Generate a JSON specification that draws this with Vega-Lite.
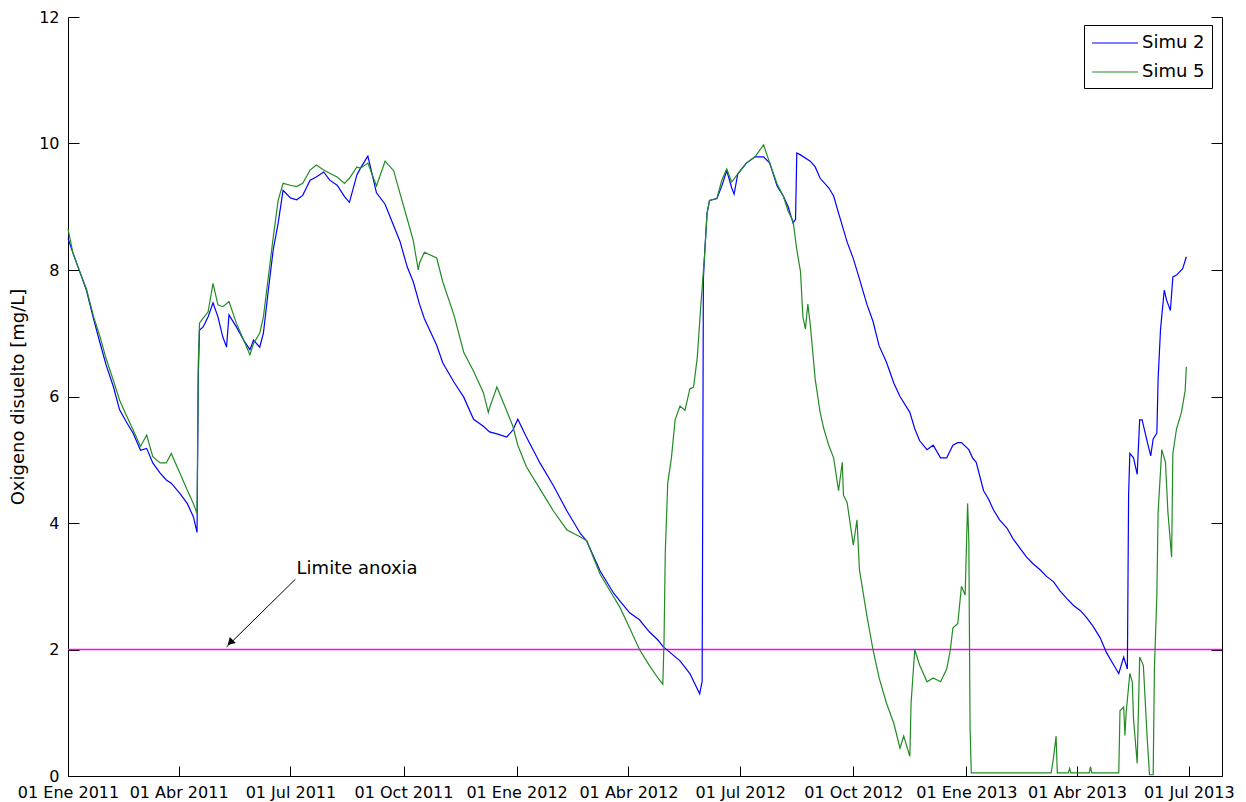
{
"$schema":"https://vega.github.io/schema/vega-lite/v6.json",
"width":1154,"height":759,
"autosize":{"type":"none"},
"padding":{"left":68,"top":17,"right":24,"bottom":26},
"background":"white",
"config":{"view":{"stroke":null},"font":"DejaVu Sans"},
"datasets":{
"sim":[
{"date":"2011-01-01","series":"Simu 2","value":8.5},
{"date":"2011-01-05","series":"Simu 2","value":8.27},
{"date":"2011-01-11","series":"Simu 2","value":7.95},
{"date":"2011-01-16","series":"Simu 2","value":7.68},
{"date":"2011-01-22","series":"Simu 2","value":7.21},
{"date":"2011-01-27","series":"Simu 2","value":6.85},
{"date":"2011-02-01","series":"Simu 2","value":6.5},
{"date":"2011-02-07","series":"Simu 2","value":6.15},
{"date":"2011-02-12","series":"Simu 2","value":5.79},
{"date":"2011-02-18","series":"Simu 2","value":5.58},
{"date":"2011-02-23","series":"Simu 2","value":5.42},
{"date":"2011-03-01","series":"Simu 2","value":5.15},
{"date":"2011-03-06","series":"Simu 2","value":5.18},
{"date":"2011-03-11","series":"Simu 2","value":4.95},
{"date":"2011-03-17","series":"Simu 2","value":4.79},
{"date":"2011-03-22","series":"Simu 2","value":4.68},
{"date":"2011-03-26","series":"Simu 2","value":4.63},
{"date":"2011-04-02","series":"Simu 2","value":4.47},
{"date":"2011-04-08","series":"Simu 2","value":4.31},
{"date":"2011-04-13","series":"Simu 2","value":4.1},
{"date":"2011-04-16","series":"Simu 2","value":3.85},
{"date":"2011-04-17","series":"Simu 2","value":6.31},
{"date":"2011-04-18","series":"Simu 2","value":7.05},
{"date":"2011-04-21","series":"Simu 2","value":7.1},
{"date":"2011-04-25","series":"Simu 2","value":7.26},
{"date":"2011-04-29","series":"Simu 2","value":7.48},
{"date":"2011-05-03","series":"Simu 2","value":7.26},
{"date":"2011-05-07","series":"Simu 2","value":6.94},
{"date":"2011-05-10","series":"Simu 2","value":6.78},
{"date":"2011-05-12","series":"Simu 2","value":7.29},
{"date":"2011-05-18","series":"Simu 2","value":7.1},
{"date":"2011-05-24","series":"Simu 2","value":6.89},
{"date":"2011-05-29","series":"Simu 2","value":6.74},
{"date":"2011-06-01","series":"Simu 2","value":6.89},
{"date":"2011-06-06","series":"Simu 2","value":6.78},
{"date":"2011-06-09","series":"Simu 2","value":7.0},
{"date":"2011-06-13","series":"Simu 2","value":7.68},
{"date":"2011-06-17","series":"Simu 2","value":8.32},
{"date":"2011-06-21","series":"Simu 2","value":8.74},
{"date":"2011-06-25","series":"Simu 2","value":9.26},
{"date":"2011-07-01","series":"Simu 2","value":9.14},
{"date":"2011-07-06","series":"Simu 2","value":9.11},
{"date":"2011-07-11","series":"Simu 2","value":9.18},
{"date":"2011-07-17","series":"Simu 2","value":9.42},
{"date":"2011-07-22","series":"Simu 2","value":9.47},
{"date":"2011-07-28","series":"Simu 2","value":9.55},
{"date":"2011-08-02","series":"Simu 2","value":9.42},
{"date":"2011-08-08","series":"Simu 2","value":9.34},
{"date":"2011-08-14","series":"Simu 2","value":9.16},
{"date":"2011-08-18","series":"Simu 2","value":9.07},
{"date":"2011-08-24","series":"Simu 2","value":9.5},
{"date":"2011-08-27","series":"Simu 2","value":9.61},
{"date":"2011-09-02","series":"Simu 2","value":9.8},
{"date":"2011-09-09","series":"Simu 2","value":9.22},
{"date":"2011-09-16","series":"Simu 2","value":9.04},
{"date":"2011-09-23","series":"Simu 2","value":8.7},
{"date":"2011-09-28","series":"Simu 2","value":8.46},
{"date":"2011-10-04","series":"Simu 2","value":8.05},
{"date":"2011-10-09","series":"Simu 2","value":7.81},
{"date":"2011-10-14","series":"Simu 2","value":7.46},
{"date":"2011-10-18","series":"Simu 2","value":7.23},
{"date":"2011-10-28","series":"Simu 2","value":6.81},
{"date":"2011-11-02","series":"Simu 2","value":6.53},
{"date":"2011-11-11","series":"Simu 2","value":6.23},
{"date":"2011-11-19","series":"Simu 2","value":5.99},
{"date":"2011-11-27","series":"Simu 2","value":5.64},
{"date":"2011-12-05","series":"Simu 2","value":5.53},
{"date":"2011-12-10","series":"Simu 2","value":5.44},
{"date":"2011-12-16","series":"Simu 2","value":5.41},
{"date":"2011-12-24","series":"Simu 2","value":5.36},
{"date":"2011-12-29","series":"Simu 2","value":5.47},
{"date":"2012-01-02","series":"Simu 2","value":5.64},
{"date":"2012-01-09","series":"Simu 2","value":5.36},
{"date":"2012-01-20","series":"Simu 2","value":4.95},
{"date":"2012-01-31","series":"Simu 2","value":4.59},
{"date":"2012-02-11","series":"Simu 2","value":4.19},
{"date":"2012-02-22","series":"Simu 2","value":3.83},
{"date":"2012-02-27","series":"Simu 2","value":3.72},
{"date":"2012-03-09","series":"Simu 2","value":3.24},
{"date":"2012-03-20","series":"Simu 2","value":2.89},
{"date":"2012-03-25","series":"Simu 2","value":2.77},
{"date":"2012-04-02","series":"Simu 2","value":2.58},
{"date":"2012-04-10","series":"Simu 2","value":2.47},
{"date":"2012-04-18","series":"Simu 2","value":2.28},
{"date":"2012-04-25","series":"Simu 2","value":2.15},
{"date":"2012-04-29","series":"Simu 2","value":2.05},
{"date":"2012-05-13","series":"Simu 2","value":1.82},
{"date":"2012-05-21","series":"Simu 2","value":1.62},
{"date":"2012-05-29","series":"Simu 2","value":1.3},
{"date":"2012-05-31","series":"Simu 2","value":1.5},
{"date":"2012-06-01","series":"Simu 2","value":7.86},
{"date":"2012-06-02","series":"Simu 2","value":8.24},
{"date":"2012-06-04","series":"Simu 2","value":8.9},
{"date":"2012-06-06","series":"Simu 2","value":9.1},
{"date":"2012-06-12","series":"Simu 2","value":9.13},
{"date":"2012-06-16","series":"Simu 2","value":9.33},
{"date":"2012-06-20","series":"Simu 2","value":9.57},
{"date":"2012-06-24","series":"Simu 2","value":9.3},
{"date":"2012-06-26","series":"Simu 2","value":9.2},
{"date":"2012-06-29","series":"Simu 2","value":9.52},
{"date":"2012-07-06","series":"Simu 2","value":9.69},
{"date":"2012-07-13","series":"Simu 2","value":9.79},
{"date":"2012-07-20","series":"Simu 2","value":9.79},
{"date":"2012-07-25","series":"Simu 2","value":9.69},
{"date":"2012-07-31","series":"Simu 2","value":9.33},
{"date":"2012-08-05","series":"Simu 2","value":9.17},
{"date":"2012-08-09","series":"Simu 2","value":9.0},
{"date":"2012-08-13","series":"Simu 2","value":8.74},
{"date":"2012-08-15","series":"Simu 2","value":8.8},
{"date":"2012-08-16","series":"Simu 2","value":9.85},
{"date":"2012-08-19","series":"Simu 2","value":9.82},
{"date":"2012-08-27","series":"Simu 2","value":9.72},
{"date":"2012-08-31","series":"Simu 2","value":9.63},
{"date":"2012-09-04","series":"Simu 2","value":9.45},
{"date":"2012-09-11","series":"Simu 2","value":9.3},
{"date":"2012-09-15","series":"Simu 2","value":9.17},
{"date":"2012-09-19","series":"Simu 2","value":8.9},
{"date":"2012-09-26","series":"Simu 2","value":8.44},
{"date":"2012-10-01","series":"Simu 2","value":8.18},
{"date":"2012-10-06","series":"Simu 2","value":7.86},
{"date":"2012-10-12","series":"Simu 2","value":7.46},
{"date":"2012-10-17","series":"Simu 2","value":7.19},
{"date":"2012-10-22","series":"Simu 2","value":6.8},
{"date":"2012-10-28","series":"Simu 2","value":6.54},
{"date":"2012-11-03","series":"Simu 2","value":6.21},
{"date":"2012-11-08","series":"Simu 2","value":6.0},
{"date":"2012-11-16","series":"Simu 2","value":5.75},
{"date":"2012-11-20","series":"Simu 2","value":5.49},
{"date":"2012-11-24","series":"Simu 2","value":5.3},
{"date":"2012-11-30","series":"Simu 2","value":5.16},
{"date":"2012-12-05","series":"Simu 2","value":5.23},
{"date":"2012-12-11","series":"Simu 2","value":5.03},
{"date":"2012-12-16","series":"Simu 2","value":5.03},
{"date":"2012-12-21","series":"Simu 2","value":5.23},
{"date":"2012-12-25","series":"Simu 2","value":5.27},
{"date":"2012-12-28","series":"Simu 2","value":5.27},
{"date":"2013-01-03","series":"Simu 2","value":5.16},
{"date":"2013-01-06","series":"Simu 2","value":5.03},
{"date":"2013-01-09","series":"Simu 2","value":4.96},
{"date":"2013-01-15","series":"Simu 2","value":4.51},
{"date":"2013-01-19","series":"Simu 2","value":4.38},
{"date":"2013-01-23","series":"Simu 2","value":4.21},
{"date":"2013-01-28","series":"Simu 2","value":4.05},
{"date":"2013-02-03","series":"Simu 2","value":3.92},
{"date":"2013-02-08","series":"Simu 2","value":3.75},
{"date":"2013-02-14","series":"Simu 2","value":3.59},
{"date":"2013-02-19","series":"Simu 2","value":3.46},
{"date":"2013-02-24","series":"Simu 2","value":3.36},
{"date":"2013-03-02","series":"Simu 2","value":3.26},
{"date":"2013-03-07","series":"Simu 2","value":3.16},
{"date":"2013-03-13","series":"Simu 2","value":3.07},
{"date":"2013-03-18","series":"Simu 2","value":2.93},
{"date":"2013-03-24","series":"Simu 2","value":2.8},
{"date":"2013-03-29","series":"Simu 2","value":2.7},
{"date":"2013-04-04","series":"Simu 2","value":2.61},
{"date":"2013-04-09","series":"Simu 2","value":2.5},
{"date":"2013-04-14","series":"Simu 2","value":2.37},
{"date":"2013-04-20","series":"Simu 2","value":2.18},
{"date":"2013-04-25","series":"Simu 2","value":1.95},
{"date":"2013-05-01","series":"Simu 2","value":1.75},
{"date":"2013-05-05","series":"Simu 2","value":1.62},
{"date":"2013-05-09","series":"Simu 2","value":1.88},
{"date":"2013-05-12","series":"Simu 2","value":1.69},
{"date":"2013-05-13","series":"Simu 2","value":4.44},
{"date":"2013-05-14","series":"Simu 2","value":5.1},
{"date":"2013-05-17","series":"Simu 2","value":5.03},
{"date":"2013-05-20","series":"Simu 2","value":4.77},
{"date":"2013-05-22","series":"Simu 2","value":5.63},
{"date":"2013-05-24","series":"Simu 2","value":5.63},
{"date":"2013-05-28","series":"Simu 2","value":5.3},
{"date":"2013-05-31","series":"Simu 2","value":5.06},
{"date":"2013-06-02","series":"Simu 2","value":5.33},
{"date":"2013-06-05","series":"Simu 2","value":5.42},
{"date":"2013-06-06","series":"Simu 2","value":6.27},
{"date":"2013-06-08","series":"Simu 2","value":7.07},
{"date":"2013-06-11","series":"Simu 2","value":7.68},
{"date":"2013-06-13","series":"Simu 2","value":7.52},
{"date":"2013-06-16","series":"Simu 2","value":7.36},
{"date":"2013-06-18","series":"Simu 2","value":7.89},
{"date":"2013-06-21","series":"Simu 2","value":7.92},
{"date":"2013-06-26","series":"Simu 2","value":8.02},
{"date":"2013-06-29","series":"Simu 2","value":8.21},
{"date":"2011-01-01","series":"Simu 5","value":8.65},
{"date":"2011-01-05","series":"Simu 5","value":8.27},
{"date":"2011-01-11","series":"Simu 5","value":7.95},
{"date":"2011-01-16","series":"Simu 5","value":7.7},
{"date":"2011-01-22","series":"Simu 5","value":7.25},
{"date":"2011-01-27","series":"Simu 5","value":6.95},
{"date":"2011-02-01","series":"Simu 5","value":6.6},
{"date":"2011-02-07","series":"Simu 5","value":6.25},
{"date":"2011-02-12","series":"Simu 5","value":5.94},
{"date":"2011-02-18","series":"Simu 5","value":5.68},
{"date":"2011-02-23","series":"Simu 5","value":5.47},
{"date":"2011-03-01","series":"Simu 5","value":5.21},
{"date":"2011-03-06","series":"Simu 5","value":5.39},
{"date":"2011-03-11","series":"Simu 5","value":5.05},
{"date":"2011-03-17","series":"Simu 5","value":4.95},
{"date":"2011-03-22","series":"Simu 5","value":4.95},
{"date":"2011-03-26","series":"Simu 5","value":5.1},
{"date":"2011-04-02","series":"Simu 5","value":4.79},
{"date":"2011-04-08","series":"Simu 5","value":4.52},
{"date":"2011-04-13","series":"Simu 5","value":4.31},
{"date":"2011-04-16","series":"Simu 5","value":4.15},
{"date":"2011-04-17","series":"Simu 5","value":6.53},
{"date":"2011-04-18","series":"Simu 5","value":7.16},
{"date":"2011-04-21","series":"Simu 5","value":7.24},
{"date":"2011-04-25","series":"Simu 5","value":7.34},
{"date":"2011-04-29","series":"Simu 5","value":7.79},
{"date":"2011-05-03","series":"Simu 5","value":7.45},
{"date":"2011-05-07","series":"Simu 5","value":7.42},
{"date":"2011-05-12","series":"Simu 5","value":7.5},
{"date":"2011-05-18","series":"Simu 5","value":7.16},
{"date":"2011-05-24","series":"Simu 5","value":6.89},
{"date":"2011-05-29","series":"Simu 5","value":6.66},
{"date":"2011-06-01","series":"Simu 5","value":6.84},
{"date":"2011-06-06","series":"Simu 5","value":7.0},
{"date":"2011-06-09","series":"Simu 5","value":7.26},
{"date":"2011-06-13","series":"Simu 5","value":7.89},
{"date":"2011-06-17","series":"Simu 5","value":8.52},
{"date":"2011-06-21","series":"Simu 5","value":9.1},
{"date":"2011-06-25","series":"Simu 5","value":9.37},
{"date":"2011-07-01","series":"Simu 5","value":9.34},
{"date":"2011-07-06","series":"Simu 5","value":9.32},
{"date":"2011-07-11","series":"Simu 5","value":9.37},
{"date":"2011-07-17","series":"Simu 5","value":9.58},
{"date":"2011-07-22","series":"Simu 5","value":9.66},
{"date":"2011-07-28","series":"Simu 5","value":9.58},
{"date":"2011-08-02","series":"Simu 5","value":9.53},
{"date":"2011-08-08","series":"Simu 5","value":9.47},
{"date":"2011-08-14","series":"Simu 5","value":9.37},
{"date":"2011-08-18","series":"Simu 5","value":9.45},
{"date":"2011-08-24","series":"Simu 5","value":9.63},
{"date":"2011-08-27","series":"Simu 5","value":9.61},
{"date":"2011-09-02","series":"Simu 5","value":9.69},
{"date":"2011-09-09","series":"Simu 5","value":9.33},
{"date":"2011-09-16","series":"Simu 5","value":9.72},
{"date":"2011-09-23","series":"Simu 5","value":9.57},
{"date":"2011-09-28","series":"Simu 5","value":9.22},
{"date":"2011-10-04","series":"Simu 5","value":8.81},
{"date":"2011-10-09","series":"Simu 5","value":8.46},
{"date":"2011-10-13","series":"Simu 5","value":8.0},
{"date":"2011-10-14","series":"Simu 5","value":8.11},
{"date":"2011-10-18","series":"Simu 5","value":8.28},
{"date":"2011-10-28","series":"Simu 5","value":8.19},
{"date":"2011-11-02","series":"Simu 5","value":7.81},
{"date":"2011-11-11","series":"Simu 5","value":7.29},
{"date":"2011-11-19","series":"Simu 5","value":6.7},
{"date":"2011-11-27","series":"Simu 5","value":6.4},
{"date":"2011-12-05","series":"Simu 5","value":6.06},
{"date":"2011-12-09","series":"Simu 5","value":5.75},
{"date":"2011-12-10","series":"Simu 5","value":5.82},
{"date":"2011-12-16","series":"Simu 5","value":6.15},
{"date":"2011-12-24","series":"Simu 5","value":5.77},
{"date":"2011-12-29","series":"Simu 5","value":5.53},
{"date":"2012-01-02","series":"Simu 5","value":5.23},
{"date":"2012-01-09","series":"Simu 5","value":4.89},
{"date":"2012-01-20","series":"Simu 5","value":4.54},
{"date":"2012-01-31","series":"Simu 5","value":4.19},
{"date":"2012-02-11","series":"Simu 5","value":3.89},
{"date":"2012-02-22","series":"Simu 5","value":3.78},
{"date":"2012-02-27","series":"Simu 5","value":3.72},
{"date":"2012-03-09","series":"Simu 5","value":3.19},
{"date":"2012-03-20","series":"Simu 5","value":2.83},
{"date":"2012-03-25","series":"Simu 5","value":2.67},
{"date":"2012-04-02","series":"Simu 5","value":2.34},
{"date":"2012-04-10","series":"Simu 5","value":2.0},
{"date":"2012-04-18","series":"Simu 5","value":1.75},
{"date":"2012-04-25","series":"Simu 5","value":1.55},
{"date":"2012-04-29","series":"Simu 5","value":1.45},
{"date":"2012-04-30","series":"Simu 5","value":2.15},
{"date":"2012-05-01","series":"Simu 5","value":3.53},
{"date":"2012-05-03","series":"Simu 5","value":4.63},
{"date":"2012-05-06","series":"Simu 5","value":5.03},
{"date":"2012-05-09","series":"Simu 5","value":5.63},
{"date":"2012-05-13","series":"Simu 5","value":5.85},
{"date":"2012-05-17","series":"Simu 5","value":5.78},
{"date":"2012-05-21","series":"Simu 5","value":6.12},
{"date":"2012-05-24","series":"Simu 5","value":6.15},
{"date":"2012-05-27","series":"Simu 5","value":6.61},
{"date":"2012-05-30","series":"Simu 5","value":7.46},
{"date":"2012-06-02","series":"Simu 5","value":8.24},
{"date":"2012-06-04","series":"Simu 5","value":8.9},
{"date":"2012-06-06","series":"Simu 5","value":9.1},
{"date":"2012-06-12","series":"Simu 5","value":9.13},
{"date":"2012-06-16","series":"Simu 5","value":9.42},
{"date":"2012-06-20","series":"Simu 5","value":9.6},
{"date":"2012-06-24","series":"Simu 5","value":9.39},
{"date":"2012-06-29","series":"Simu 5","value":9.52},
{"date":"2012-07-06","series":"Simu 5","value":9.69},
{"date":"2012-07-13","series":"Simu 5","value":9.79},
{"date":"2012-07-20","series":"Simu 5","value":9.98},
{"date":"2012-07-25","series":"Simu 5","value":9.69},
{"date":"2012-07-31","series":"Simu 5","value":9.36},
{"date":"2012-08-05","series":"Simu 5","value":9.17},
{"date":"2012-08-09","series":"Simu 5","value":8.93},
{"date":"2012-08-13","series":"Simu 5","value":8.77},
{"date":"2012-08-16","series":"Simu 5","value":8.32},
{"date":"2012-08-19","series":"Simu 5","value":7.98},
{"date":"2012-08-21","series":"Simu 5","value":7.26},
{"date":"2012-08-23","series":"Simu 5","value":7.07},
{"date":"2012-08-25","series":"Simu 5","value":7.46},
{"date":"2012-08-27","series":"Simu 5","value":7.13},
{"date":"2012-08-31","series":"Simu 5","value":6.27},
{"date":"2012-09-04","series":"Simu 5","value":5.75},
{"date":"2012-09-07","series":"Simu 5","value":5.49},
{"date":"2012-09-11","series":"Simu 5","value":5.23},
{"date":"2012-09-15","series":"Simu 5","value":5.03},
{"date":"2012-09-19","series":"Simu 5","value":4.51},
{"date":"2012-09-22","series":"Simu 5","value":4.96},
{"date":"2012-09-23","series":"Simu 5","value":4.44},
{"date":"2012-09-26","series":"Simu 5","value":4.32},
{"date":"2012-10-01","series":"Simu 5","value":3.65},
{"date":"2012-10-04","series":"Simu 5","value":4.05},
{"date":"2012-10-06","series":"Simu 5","value":3.26},
{"date":"2012-10-12","series":"Simu 5","value":2.54},
{"date":"2012-10-17","series":"Simu 5","value":2.0},
{"date":"2012-10-22","series":"Simu 5","value":1.55},
{"date":"2012-10-28","series":"Simu 5","value":1.15},
{"date":"2012-11-03","series":"Simu 5","value":0.83},
{"date":"2012-11-08","series":"Simu 5","value":0.44},
{"date":"2012-11-11","series":"Simu 5","value":0.63},
{"date":"2012-11-16","series":"Simu 5","value":0.31},
{"date":"2012-11-17","series":"Simu 5","value":1.15},
{"date":"2012-11-20","series":"Simu 5","value":2.0},
{"date":"2012-11-24","series":"Simu 5","value":1.75},
{"date":"2012-11-30","series":"Simu 5","value":1.49},
{"date":"2012-12-05","series":"Simu 5","value":1.55},
{"date":"2012-12-11","series":"Simu 5","value":1.49},
{"date":"2012-12-16","series":"Simu 5","value":1.69},
{"date":"2012-12-19","series":"Simu 5","value":2.0},
{"date":"2012-12-21","series":"Simu 5","value":2.34},
{"date":"2012-12-25","series":"Simu 5","value":2.41},
{"date":"2012-12-28","series":"Simu 5","value":3.0},
{"date":"2012-12-31","series":"Simu 5","value":2.86},
{"date":"2013-01-02","series":"Simu 5","value":4.31},
{"date":"2013-01-03","series":"Simu 5","value":3.72},
{"date":"2013-01-04","series":"Simu 5","value":0.77},
{"date":"2013-01-05","series":"Simu 5","value":0.05},
{"date":"2013-03-11","series":"Simu 5","value":0.05},
{"date":"2013-03-13","series":"Simu 5","value":0.3},
{"date":"2013-03-15","series":"Simu 5","value":0.63},
{"date":"2013-03-16","series":"Simu 5","value":0.05},
{"date":"2013-03-25","series":"Simu 5","value":0.05},
{"date":"2013-03-26","series":"Simu 5","value":0.12},
{"date":"2013-03-27","series":"Simu 5","value":0.05},
{"date":"2013-04-11","series":"Simu 5","value":0.05},
{"date":"2013-04-12","series":"Simu 5","value":0.15},
{"date":"2013-04-13","series":"Simu 5","value":0.05},
{"date":"2013-05-05","series":"Simu 5","value":0.05},
{"date":"2013-05-06","series":"Simu 5","value":1.03},
{"date":"2013-05-09","series":"Simu 5","value":1.09},
{"date":"2013-05-10","series":"Simu 5","value":0.64},
{"date":"2013-05-11","series":"Simu 5","value":1.0},
{"date":"2013-05-14","series":"Simu 5","value":1.62},
{"date":"2013-05-16","series":"Simu 5","value":1.49},
{"date":"2013-05-17","series":"Simu 5","value":0.9},
{"date":"2013-05-20","series":"Simu 5","value":0.2},
{"date":"2013-05-22","series":"Simu 5","value":1.88},
{"date":"2013-05-25","series":"Simu 5","value":1.75},
{"date":"2013-05-28","series":"Simu 5","value":0.64},
{"date":"2013-05-30","series":"Simu 5","value":0.02},
{"date":"2013-06-02","series":"Simu 5","value":0.02},
{"date":"2013-06-03","series":"Simu 5","value":1.69},
{"date":"2013-06-05","series":"Simu 5","value":2.86},
{"date":"2013-06-06","series":"Simu 5","value":4.17},
{"date":"2013-06-09","series":"Simu 5","value":5.16},
{"date":"2013-06-12","series":"Simu 5","value":4.96},
{"date":"2013-06-14","series":"Simu 5","value":4.17},
{"date":"2013-06-17","series":"Simu 5","value":3.46},
{"date":"2013-06-18","series":"Simu 5","value":5.1},
{"date":"2013-06-21","series":"Simu 5","value":5.49},
{"date":"2013-06-25","series":"Simu 5","value":5.75},
{"date":"2013-06-28","series":"Simu 5","value":6.09},
{"date":"2013-06-29","series":"Simu 5","value":6.47}
],
"ann":[{"date":"2011-07-06","value":3.19,"label":"Limite anoxia"}],
"arrow":[{"date":"2011-07-05","value":3.11,"date2":"2011-05-10","value2":2.04}],
"head":[{"date":"2011-05-13","value":2.11}],
"limit":[{"value":2}]
},
"resolve":{"axis":{"y":"independent"}},
"layer":[
{"data":{"name":"limit"},
 "mark":{"type":"rule","stroke":"#ff00ff","color":"#ff00ff","strokeWidth":1.3,"opacity":1},
 "encoding":{"y":{"field":"value","type":"quantitative",
  "axis":{"orient":"right","values":[0,2,4,6,8,10,12],"labels":false,"title":null,"grid":false,
   "domainColor":"black","domainWidth":1,"tickColor":"black","tickWidth":1,"tickSize":-11}}}},
{"data":{"name":"sim"},
 "mark":{"type":"line","strokeWidth":1.2},
 "encoding":{
  "x":{"field":"date","type":"temporal","title":null,
   "scale":{"type":"utc","domain":[{"year":2011,"month":1,"date":1,"utc":true},{"year":2013,"month":7,"date":28,"utc":true}]},
   "axis":{"orient":"bottom","title":null,"grid":false,
    "values":[{"year":2011,"month":1,"date":1,"utc":true},{"year":2011,"month":4,"date":1,"utc":true},{"year":2011,"month":7,"date":1,"utc":true},{"year":2011,"month":10,"date":1,"utc":true},{"year":2012,"month":1,"date":1,"utc":true},{"year":2012,"month":4,"date":1,"utc":true},{"year":2012,"month":7,"date":1,"utc":true},{"year":2012,"month":10,"date":1,"utc":true},{"year":2013,"month":1,"date":1,"utc":true},{"year":2013,"month":4,"date":1,"utc":true},{"year":2013,"month":7,"date":1,"utc":true}],
    "labelExpr":"utcFormat(datum.value,'%d') + ' ' + ['Ene','Feb','Mar','Abr','May','Jun','Jul','Ago','Sep','Oct','Nov','Dic'][utcmonth(datum.value)] + ' ' + utcFormat(datum.value,'%Y')",
    "labelOverlap":false,"labelFlush":false,"labelBound":false,
    "labelFont":"DejaVu Sans","labelFontSize":16,"labelColor":"black",
    "domainColor":"black","domainWidth":1,"tickColor":"black","tickWidth":1,"tickSize":-10,"labelPadding":18}},
  "y":{"field":"value","type":"quantitative",
   "scale":{"domain":[0,12],"nice":false,"zero":true},
   "axis":{"orient":"left","values":[0,2,4,6,8,10,12],"grid":false,
    "title":"Oxigeno disuelto [mg/L]","titleFont":"DejaVu Sans","titleFontSize":18,"titleFontWeight":"normal","titleColor":"black","titlePadding":11,
    "labelFont":"DejaVu Sans","labelFontSize":16,"labelColor":"black",
    "domainColor":"black","domainWidth":1,"tickColor":"black","tickWidth":1,"tickSize":-11,"labelPadding":20}},
  "color":{"field":"series","type":"nominal",
   "scale":{"domain":["Simu 2","Simu 5"],"range":["#0000ff","#238b23"]},
   "legend":{"title":null,"orient":"none","legendX":1016,"legendY":8,
    "strokeColor":"black","fillColor":"white","padding":7,
    "symbolType":"M-2.3,0H2.3","symbolSize":400,"symbolStrokeWidth":1.2,"symbolOffset":13,
    "labelFont":"DejaVu Sans","labelFontSize":18,"labelColor":"black","labelOffset":16,"rowPadding":9}}
 }},
{"data":{"name":"arrow"},
 "mark":{"type":"rule","color":"black","strokeWidth":1},
 "encoding":{"x":{"field":"date","type":"temporal","title":null},"y":{"field":"value","type":"quantitative","axis":null},
  "x2":{"field":"date2"},"y2":{"field":"value2"}}},
{"data":{"name":"head"},
 "mark":{"type":"point","shape":"triangle-up","filled":true,"color":"black","opacity":1,"size":70,"angle":225},
 "encoding":{"x":{"field":"date","type":"temporal","title":null},"y":{"field":"value","type":"quantitative","axis":null}}},
{"data":{"name":"ann"},
 "mark":{"type":"text","align":"left","baseline":"alphabetic","font":"DejaVu Sans","fontSize":18,"color":"black"},
 "encoding":{"x":{"field":"date","type":"temporal","title":null},"y":{"field":"value","type":"quantitative","axis":null},"text":{"field":"label"}}}
]
}
